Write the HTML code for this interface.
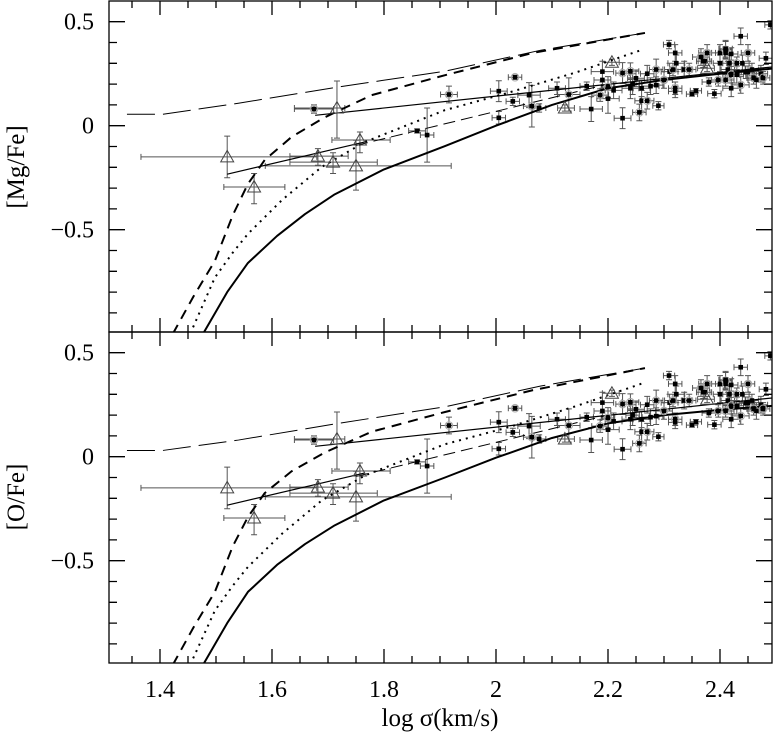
<!DOCTYPE html>
<html><head><meta charset="utf-8"><style>
html,body{margin:0;padding:0;background:#fff;}
svg{display:block;}
text{font-family:"Liberation Serif",serif;fill:#000;}
</style></head><body>
<svg id="chart" width="774" height="732" viewBox="0 0 774 732">
<g id="panels"></g>
<g stroke="#000" stroke-width="1.3" fill="none">
<path d="M132,332v-7M188,332v-7M216,332v-7M244,332v-7M300,332v-7M328,332v-7M356,332v-7M412,332v-7M440,332v-7M468,332v-7M524,332v-7M552,332v-7M580,332v-7M636,332v-7M664,332v-7M692,332v-7M748,332v-7
M132,1v7M188,1v7M216,1v7M244,1v7M300,1v7M328,1v7M356,1v7M412,1v7M440,1v7M468,1v7M524,1v7M552,1v7M580,1v7M636,1v7M664,1v7M692,1v7M748,1v7
M132,663v-7M188,663v-7M216,663v-7M244,663v-7M300,663v-7M328,663v-7M356,663v-7M412,663v-7M440,663v-7M468,663v-7M524,663v-7M552,663v-7M580,663v-7M636,663v-7M664,663v-7M692,663v-7M748,663v-7
M132,332v7M188,332v7M216,332v7M244,332v7M300,332v7M328,332v7M356,332v7M412,332v7M440,332v7M468,332v7M524,332v7M552,332v7M580,332v7M636,332v7M664,332v7M692,332v7M748,332v7"/>
<path d="M160,332v-14M272,332v-14M384,332v-14M496,332v-14M608,332v-14M720,332v-14
M160,1v14M272,1v14M384,1v14M496,1v14M608,1v14M720,1v14
M160,663v-14M272,663v-14M384,663v-14M496,663v-14M608,663v-14M720,663v-14
M160,332v14M272,332v14M384,332v14M496,332v14M608,332v14M720,332v14"/>
<path d="M109,21.7h16M109,42.5h8M109,63.3h8M109,84.1h8M109,104.9h8M109,125.7h16M109,146.5h8M109,167.3h8M109,188.1h8M109,208.9h8M109,229.7h16M109,250.5h8M109,271.3h8M109,292.1h8M109,312.9h8
M772,21.7h-16M772,42.5h-8M772,63.3h-8M772,84.1h-8M772,104.9h-8M772,125.7h-16M772,146.5h-8M772,167.3h-8M772,188.1h-8M772,208.9h-8M772,229.7h-16M772,250.5h-8M772,271.3h-8M772,292.1h-8M772,312.9h-8"/>
<path d="M109,352.7h16M109,373.5h8M109,394.3h8M109,415.1h8M109,435.9h8M109,456.7h16M109,477.5h8M109,498.3h8M109,519.1h8M109,539.9h8M109,560.7h16M109,581.5h8M109,602.3h8M109,623.1h8M109,643.9h8
M772,352.7h-16M772,373.5h-8M772,394.3h-8M772,415.1h-8M772,435.9h-8M772,456.7h-16M772,477.5h-8M772,498.3h-8M772,519.1h-8M772,539.9h-8M772,560.7h-16M772,581.5h-8M772,602.3h-8M772,623.1h-8M772,643.9h-8"/>
</g>
<text x="440" y="726" text-anchor="middle" font-size="25">log σ(km/s)</text>
<text transform="translate(24,167) rotate(-90)" text-anchor="middle" font-size="25">[Mg/Fe]</text>
<text transform="translate(24,497) rotate(-90)" text-anchor="middle" font-size="25">[O/Fe]</text>
</svg>
<script>
const xTicks=[1.4,1.6,1.8,2,2.2,2.4];
const xTickLabels=["1.4","1.6","1.8","2","2.2","2.4"];
const yTicks=[0.5,0,-0.5];
const yTickLabels=["0.5","0","\u22120.5"];
const solidX=[1.477,1.52,1.557,1.609,1.659,1.712,1.8,1.909,2.0,2.1,2.2,2.3,2.4,2.495];
const solidMg=[-1.0,-0.8,-0.66,-0.53,-0.425,-0.33,-0.21,-0.098,0.0,0.1,0.18,0.22,0.25,0.275];
const solidO=[-1.0,-0.8,-0.65,-0.52,-0.42,-0.33,-0.21,-0.1,-0.005,0.09,0.16,0.2,0.225,0.245];
const dashX=[1.423,1.46,1.498,1.53,1.557,1.587,1.635,1.694,1.778,1.909,2.066,2.266];
const dashMg=[-1.0,-0.82,-0.65,-0.43,-0.28,-0.165,-0.054,0.04,0.147,0.243,0.35,0.446];
const dashO=[-1.0,-0.82,-0.65,-0.43,-0.29,-0.175,-0.07,0.02,0.12,0.215,0.32,0.426];
const dotX=[1.454,1.498,1.53,1.557,1.618,1.689,1.766,1.909,2.02,2.145,2.263];
const dotMg=[-1.0,-0.73,-0.61,-0.52,-0.357,-0.198,-0.078,0.075,0.157,0.258,0.367];
const dotO=[-1.0,-0.74,-0.62,-0.53,-0.37,-0.21,-0.09,0.06,0.14,0.245,0.354];
const flatX=[1.341,1.405,1.54,1.718,1.909,2.08,2.266];
const flatMg=[0.055,0.055,0.108,0.186,0.262,0.363,0.446];
const flatO=[0.03,0.03,0.08,0.16,0.24,0.34,0.426];
const fit1X=[1.677,2.495], fit1Y=[0.05,0.283];
const fit2X=[1.52,1.766], fit2Y=[-0.233,-0.078];
const fit3X=[1.75,2.2], fit3Y=[-0.095,0.2];
const triX=[1.52,1.568,1.682,1.716,1.709,1.757,1.75,2.123,2.207,2.377];
const triY=[-0.15,-0.295,-0.146,0.085,-0.175,-0.069,-0.193,0.085,0.305,0.276];
const triXlo=[1.366,1.514,1.632,1.64,1.632,1.707,1.588,2.11,2.19,2.36];
const triXhi=[1.68,1.623,1.736,1.73,1.788,1.811,1.92,2.14,2.22,2.39];
const triYlo=[-0.25,-0.375,-0.19,-0.06,-0.23,-0.13,-0.31,0.07,0.29,0.26];
const triYhi=[-0.05,-0.23,-0.11,0.215,-0.13,-0.03,-0.07,0.1,0.32,0.29];
const ptX=[1.675,1.859,1.877,1.916,2.005,2.005,2.034,2.03,2.059,2.064,2.077,2.109,2.13,2.162,2.17,2.186,2.19,2.19,2.2,2.2,2.21,2.226,2.226,2.24,2.24,2.244,2.25,2.256,2.26,2.26,2.27,2.27,2.276,2.286,2.286,2.29,2.3,2.309,2.31,2.316,2.32,2.322,2.32,2.32,2.336,2.345,2.35,2.357,2.366,2.37,2.373,2.377,2.38,2.39,2.397,2.4,2.4,2.41,2.41,2.41,2.41,2.414,2.417,2.42,2.42,2.42,2.43,2.43,2.437,2.437,2.44,2.446,2.45,2.45,2.457,2.46,2.465,2.473,2.477,2.482,2.49];
const ptY=[0.08,-0.025,-0.045,0.15,0.166,0.038,0.233,0.117,0.147,0.094,0.085,0.18,0.15,0.19,0.08,0.147,0.26,0.22,0.186,0.13,0.17,0.253,0.036,0.18,0.262,0.2,0.228,0.064,0.12,0.18,0.12,0.25,0.19,0.27,0.195,0.096,0.22,0.39,0.26,0.27,0.35,0.3,0.18,0.165,0.27,0.27,0.152,0.168,0.33,0.31,0.31,0.35,0.21,0.154,0.22,0.35,0.3,0.365,0.35,0.37,0.22,0.27,0.3,0.245,0.345,0.18,0.3,0.245,0.43,0.196,0.3,0.257,0.35,0.257,0.27,0.23,0.22,0.25,0.23,0.324,0.485];
const ptEx=[0.035,0.015,0.012,0.015,0.015,0.012,0.012,0.012,0.02,0.015,0.012,0.015,0.02,0.012,0.02,0.015,0.02,0.015,0.012,0.02,0.015,0.012,0.015,0.015,0.015,0.012,0.015,0.012,0.012,0.015,0.012,0.012,0.015,0.012,0.012,0.01,0.015,0.01,0.015,0.015,0.012,0.015,0.012,0.012,0.015,0.012,0.01,0.01,0.015,0.012,0.012,0.015,0.012,0.012,0.012,0.015,0.012,0.012,0.012,0.012,0.015,0.012,0.012,0.015,0.012,0.015,0.012,0.012,0.012,0.015,0.012,0.012,0.012,0.012,0.012,0.012,0.015,0.012,0.012,0.012,0.01];
const ptEy=[0.02,0.01,0.13,0.04,0.05,0.03,0.01,0.02,0.06,0.1,0.02,0.03,0.08,0.02,0.06,0.03,0.05,0.04,0.05,0.07,0.04,0.05,0.05,0.05,0.04,0.05,0.04,0.04,0.05,0.04,0.04,0.04,0.04,0.05,0.04,0.02,0.04,0.02,0.04,0.03,0.04,0.04,0.03,0.03,0.04,0.03,0.01,0.01,0.04,0.03,0.03,0.04,0.02,0.02,0.03,0.04,0.04,0.04,0.03,0.04,0.03,0.04,0.04,0.04,0.03,0.04,0.03,0.04,0.04,0.04,0.04,0.03,0.04,0.03,0.03,0.03,0.04,0.04,0.03,0.03,0.02];

const NS='http://www.w3.org/2000/svg';
const L=109,R=772;
function X(v){return 160+(v-1.4)*560;}
function mk(tag,attrs,parent){const e=document.createElementNS(NS,tag);for(const k in attrs)e.setAttribute(k,attrs[k]);parent.appendChild(e);return e;}
const root=document.getElementById('panels');
const panels=[{top:1,bot:332,zero:125.7,name:'mgfe',solid:solidMg,dash:dashMg,dot:dotMg,flat:flatMg},
              {top:332,bot:663,zero:456.7,name:'ofe',solid:solidO,dash:dashO,dot:dotO,flat:flatO}];
panels.forEach(p=>{
  const Y=v=>p.zero-v*208;
  const g=mk('g',{},root);
  
  
  const cid='clip-'+p.name;
  const cp=mk('clipPath',{id:cid},g);mk('rect',{x:L,y:p.top,width:R-L,height:p.bot-p.top},cp);
  yTicks.forEach((v,i)=>{const t=mk('text',{x:94,y:Y(v)+8,'text-anchor':'end','font-size':24},g);t.textContent=yTickLabels[i];
    
    });
  const d=mk('g',{'clip-path':'url(#'+cid+')'},g);
  const line=(xs,ys,attrs,name)=>{const e=mk('polyline',Object.assign({points:xs.map((x,i)=>X(x)+','+Y(ys[i])).join(' '),fill:'none',stroke:'#000','stroke-linejoin':'round'},attrs),d);
    
    };
  let ed='';
  const bar=(x,y,xl,xh,yl,yh)=>{const cx=X(x),cy=Y(y),x1=X(xl),x2=X(xh),y1=Y(yl),y2=Y(yh);
    ed+=`M${x1},${cy}H${x2}M${x1},${cy-3}v6M${x2},${cy-3}v6M${cx},${y1}V${y2}M${cx-3},${y1}h6M${cx-3},${y2}h6`;};
  ptX.forEach((x,i)=>bar(x,ptY[i],x-ptEx[i],x+ptEx[i],ptY[i]-ptEy[i],ptY[i]+ptEy[i]));
  triX.forEach((x,i)=>bar(x,triY[i],triXlo[i],triXhi[i],triYlo[i],triYhi[i]));
  const eb=mk('path',{d:ed,stroke:'#555','stroke-width':'1',fill:'none'},d);
  
  
  line(solidX,p.solid,{'stroke-width':2},'model-solid');
  line(dashX,p.dash,{'stroke-width':2,'stroke-dasharray':'10,7'},'model-dashed');
  line(dotX,p.dot,{'stroke-width':2,'stroke-dasharray':'2,5'},'model-dotted');
  line(flatX,p.flat,{'stroke-width':1,'stroke-dasharray':'28,8'},'model-long-dashed');
  line(fit1X,fit1Y,{'stroke-width':1.2},'fit-line-upper');
  line(fit2X,fit2Y,{'stroke-width':1.2},'fit-line-lower');
  line(fit3X,fit3Y,{'stroke-width':1,'stroke-dasharray':'12,6'},'fit-line-dashed');
  ptX.forEach((x,i)=>{const cx=X(x),cy=Y(ptY[i]);
    if(i%3===0) mk('circle',{cx:cx,cy:cy,r:3.8,fill:'none',stroke:'#aaa','stroke-width':1},d);
    const r=mk('rect',{x:cx-2.3,y:cy-2.3,width:4.6,height:4.6,fill:'#000'},d);
    
    });
  triX.forEach((x,i)=>{const cx=X(x),cy=Y(triY[i]);
    const t=mk('polygon',{points:`${cx-6.5},${cy+5} ${cx+6.5},${cy+5} ${cx},${cy-6.5}`,fill:'none',stroke:'#444','stroke-width':1},d);
    
    });
  const fr=mk('rect',{x:L,y:p.top,width:R-L,height:p.bot-p.top,fill:'none',stroke:'#000','stroke-width':1.3},g);
  
  
});
const xl=mk('g',{},root);


xTicks.forEach((v,i)=>{const t=mk('text',{x:X(v),y:697,'text-anchor':'middle','font-size':24},xl);t.textContent=xTickLabels[i];
  
  });
</script>
</body></html>
